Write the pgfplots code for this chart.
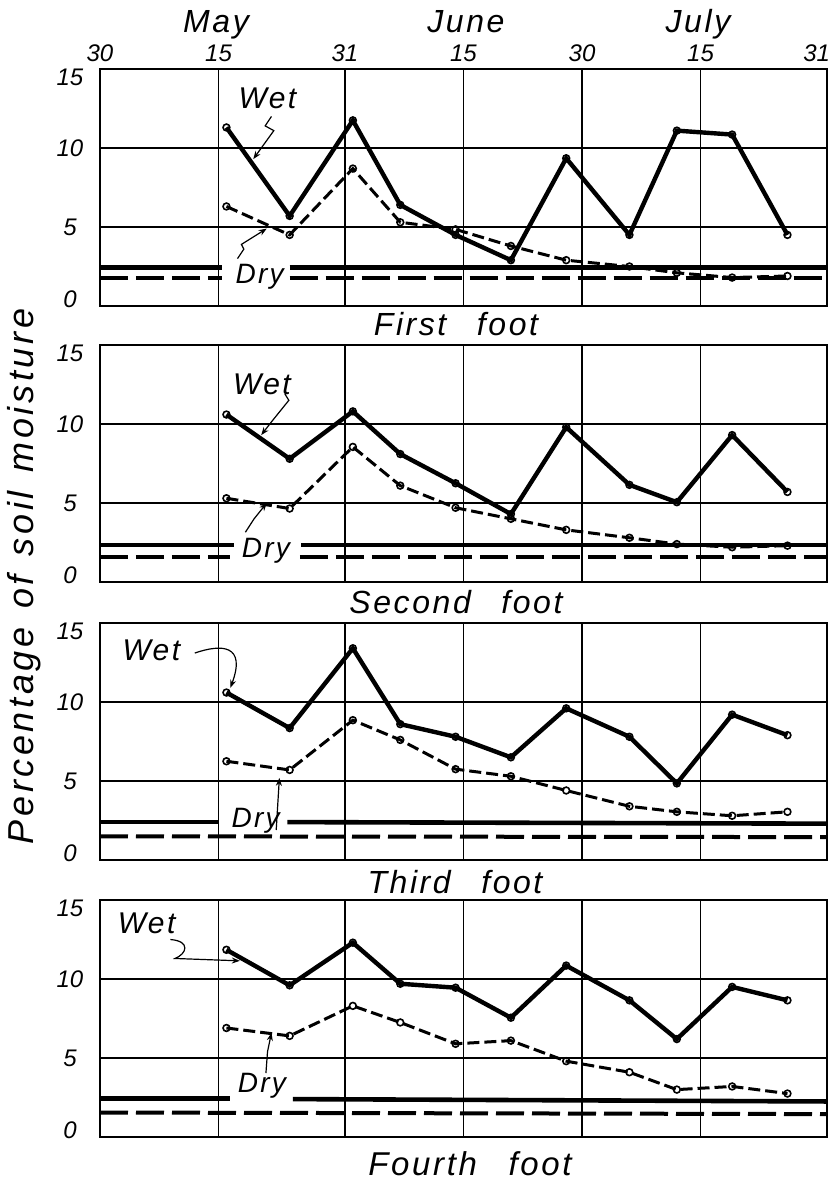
\documentclass[border=0pt]{standalone}
\usepackage{fontspec}
\setmainfont{Liberation Sans}
\newfontfamily\handfont[LetterSpace=8]{Liberation Sans}
\newfontfamily\labelfont[LetterSpace=10]{Liberation Sans}
\usepackage{pgfplots}
\usepackage{pgfplotstable}
\pgfplotsset{compat=1.18}
\usetikzlibrary{arrows.meta}

\pgfplotstableread{
day wet dry
16 11.3 6.3
24 5.7 4.5
32 11.75 8.7
38 6.4 5.3
45 4.5 4.85
52 2.9 3.8
59 9.35 2.9
67 4.5 2.5
73 11.1 2.1
80 10.85 1.8
87 4.5 1.9
}\firstfoot

\pgfplotstableread{
day wet dry
16 10.6 5.3
24 7.8 4.65
32 10.8 8.55
38 8.1 6.1
45 6.25 4.7
52 4.3 4.0
59 9.8 3.3
67 6.15 2.8
73 5.05 2.4
80 9.3 2.2
87 5.7 2.3
}\secondfoot

\pgfplotstableread{
day wet dry
16 10.6 6.25
24 8.35 5.7
32 13.4 8.85
38 8.6 7.6
45 7.8 5.75
52 6.5 5.3
59 9.6 4.4
67 7.8 3.4
73 4.85 3.05
80 9.2 2.8
87 7.9 3.05
}\thirdfoot

\pgfplotstableread{
day wet dry
16 11.85 6.9
24 9.6 6.4
32 12.3 8.3
38 9.7 7.25
45 9.45 5.9
52 7.55 6.1
59 10.85 4.8
67 8.65 4.1
73 6.2 3.0
80 9.5 3.2
87 8.65 2.75
}\fourthfoot

\pgfplotsset{
 panel/.style={width=363.5pt, height=118.5pt, scale only axis,
   xmin=0, xmax=92, ymin=0, ymax=15,
   xtick={0,15,31,46,61,76,92}, ytick={0,5,10,15}, xticklabels={},
   yticklabels={\raisebox{-0.8pt}[0pt][0pt]{0}, 5, 10, \raisebox{-8.3pt}[0pt][0pt]{15}},
   grid=major, major grid style={line width=0.7pt, black},
   axis line style={line width=1.3pt},
   major tick length=0pt,
   yticklabel style={anchor=center, xshift=-15pt, font=\fontsize{12}{12}\selectfont\itshape},
   /pgf/number format/assume math mode=true,
   anchor=north west, clip=false},
 wet/.style={black, line width=2.2pt, mark=o, mark size=1.7pt,
   mark options={solid, fill=white, line width=0.8pt}},
 dry/.style={black, line width=1.5pt, dash pattern=on 6pt off 2.5pt, mark=o, mark size=1.7pt,
   mark options={solid, fill=white, line width=0.8pt}},
 refsolid/.style={black, line width=2.3pt},
 refdash/.style={black, line width=2pt, dash pattern=on 14pt off 4pt},
}
\tikzset{
 annot/.style={black, line width=0.6pt, -{Stealth[length=4pt,width=3pt]}},
 wetlab/.style={anchor=base, font=\handfont\fontsize{15}{15}\selectfont\itshape},
 drylab/.style={anchor=base, font=\handfont\fontsize{14}{14}\selectfont\itshape},
}

\begin{document}
\begin{tikzpicture}
\path[use as bounding box] (0,0) rectangle (418pt,-590pt);

% month names
\node[anchor=base, font=\handfont\fontsize{16}{16}\selectfont\itshape] at (108pt,-16pt) {May};
\node[anchor=base, font=\handfont\fontsize{16}{16}\selectfont\itshape] at (233pt,-16pt) {June};
\node[anchor=base, font=\handfont\fontsize{16}{16}\selectfont\itshape] at (349pt,-16pt) {July};

% y label
\node[rotate=90, anchor=base, font=\labelfont\fontsize{18}{18}\selectfont\itshape] at (16.5pt,-288.25pt) {Percentage\hspace{0.15em} of\hspace{0.15em} soil\hspace{0.15em} moisture};

% First foot
\begin{axis}[panel, at={(50pt,-34.5pt)},
  xticklabel pos=upper, xticklabels={30,15,31,15,30,15,\makebox[0pt][r]{31\hspace{-1.5pt}}},
  xticklabel style={font=\fontsize{12}{12}\selectfont\itshape}]
\addplot[refsolid] coordinates {(0,2.45) (15.5,2.45)};
\addplot[refsolid] coordinates {(24,2.45) (92,2.45)};
\addplot[refdash] coordinates {(0,1.8) (15.5,1.8)};
\addplot[refdash] coordinates {(24,1.8) (92,1.8)};
\addplot[dry] table[x=day,y=dry] {\firstfoot};
\addplot[wet] table[x=day,y=wet] {\firstfoot};
\node[wetlab] at (21.2,12.5) {Wet};
\node[drylab] at (20.2,1.45) {Dry};
\draw[annot] (21.7,12.0) -- (20.9,11.4) -- (22.0,11.1) -- (19.4,9.3);
\draw[annot] (17.4,3.0) -- (18.2,3.6) -- (17.9,3.9) -- (21.1,4.9);
\end{axis}

% Second foot
\begin{axis}[panel, at={(50pt,-172.5pt)}]
\addplot[refsolid] coordinates {(0,2.35) (17,2.35)};
\addplot[refsolid] coordinates {(25.5,2.35) (92,2.35)};
\addplot[refdash] coordinates {(0,1.6) (16.5,1.6)};
\addplot[refdash] coordinates {(25.3,1.6) (92,1.6)};
\addplot[dry] table[x=day,y=dry] {\secondfoot};
\addplot[wet] table[x=day,y=wet] {\secondfoot};
\node[wetlab] at (20.5,11.85) {Wet};
\node[drylab] at (21,1.58) {Dry};
\draw[annot] (23.4,11.9) -- (23.9,11.5) -- (21.8,10.2) -- (20.4,9.3);
\draw[annot] (18.4,3.15) -- (19.5,4.0) -- (21.1,5.0);
\end{axis}

% Third foot
\begin{axis}[panel, at={(50pt,-311.5pt)}]
\addplot[refsolid] coordinates {(0,2.4) (15,2.4)};
\addplot[refsolid] coordinates {(23.7,2.4) (92,2.3)};
\addplot[refdash] coordinates {(0,1.5) (92,1.45)};
\addplot[dry] table[x=day,y=dry] {\thirdfoot};
\addplot[wet] table[x=day,y=wet] {\thirdfoot};
\node[wetlab] at (6.5,12.65) {Wet};
\node[drylab] at (19.7,2.03) {Dry};
\draw[annot] (12.0,13.1) .. controls (15.5,13.7) and (18.5,13.6) .. (16.5,10.9);
\draw[annot] (22.3,1.9) -- (22.7,5.2);
\end{axis}

% Fourth foot
\begin{axis}[panel, at={(50pt,-450pt)}]
\addplot[refsolid] coordinates {(0,2.45) (16.5,2.45)};
\addplot[refsolid] coordinates {(24.4,2.4) (92,2.25)};
\addplot[refdash] coordinates {(0,1.55) (92,1.45)};
\addplot[dry] table[x=day,y=dry] {\fourthfoot};
\addplot[wet] table[x=day,y=wet] {\fourthfoot};
\node[wetlab] at (5.9,12.85) {Wet};
\node[drylab] at (20.5,2.8) {Dry};
\draw[annot] (8.9,12.5) .. controls (11.5,12.4) and (11,11.6) .. (9.5,11.3) -- (17.7,11.15);
\draw[annot] (21.0,4.05) -- (21.2,5.4) -- (21.7,6.6);
\end{axis}

% panel titles
\node[anchor=base, font=\handfont\fontsize{16}{16}\selectfont\itshape] at (228pt,-167.5pt) {First\hspace{0.6em} foot};
\node[anchor=base, font=\handfont\fontsize{16}{16}\selectfont\itshape] at (228pt,-306.5pt) {Second\hspace{0.6em} foot};
\node[anchor=base, font=\handfont\fontsize{16}{16}\selectfont\itshape] at (227.5pt,-446.5pt) {Third\hspace{0.6em} foot};
\node[anchor=base, inner sep=0pt, font=\handfont\fontsize{16.5}{16.5}\selectfont\itshape] at (235pt,-587.5pt) {Fourth\hspace{0.6em} foot};
\end{tikzpicture}
\end{document}
